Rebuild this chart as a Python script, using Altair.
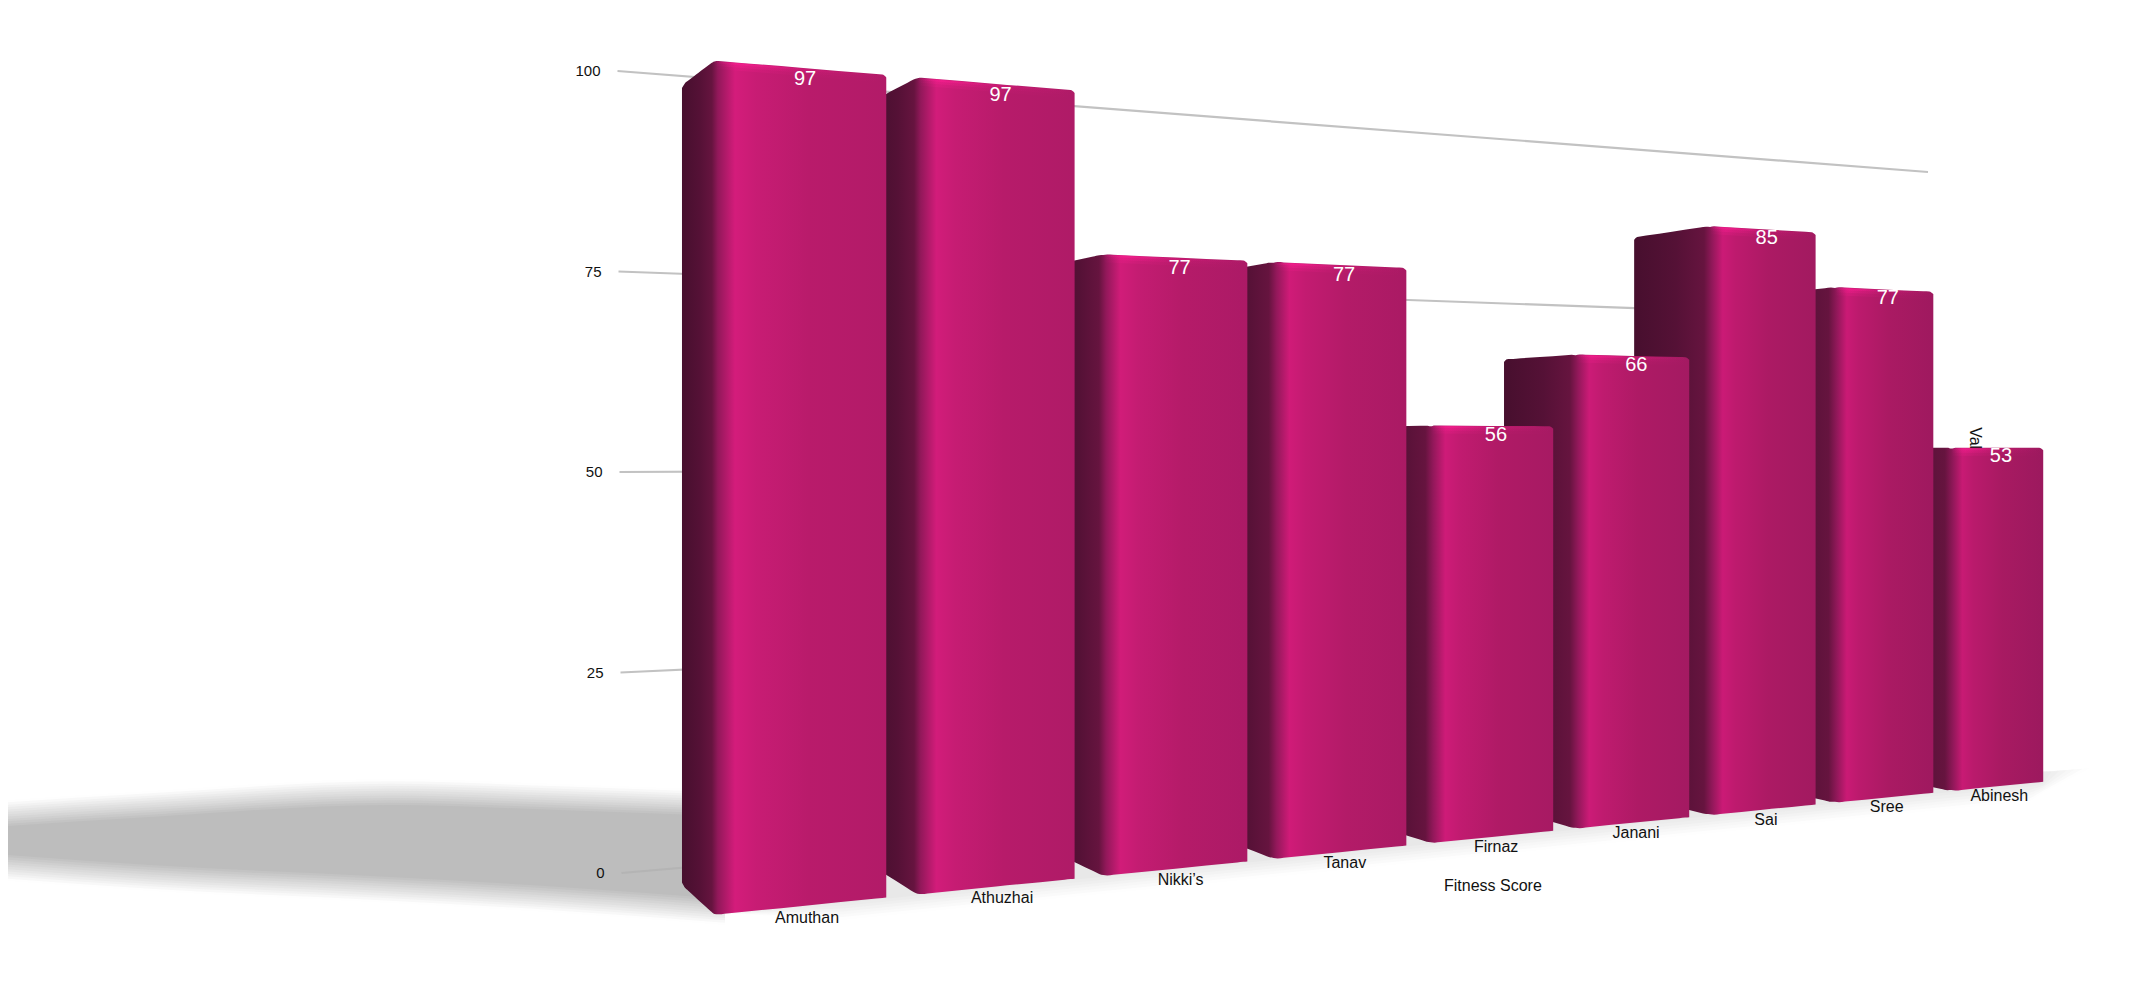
import altair as alt
import pandas as pd

names = ["Amuthan", "Athuzhai", "Nikki’s", "Tanav", "Firnaz", "Janani", "Sai", "Sree", "Abinesh"]
scores = [97, 97, 77, 77, 56, 66, 85, 77, 53]
ticks = [0, 25, 50, 75, 100]

FONT = "Liberation Sans"
X = alt.X("x:Q", axis=None, scale=alt.Scale(domain=[8, 2148], range=[0, 2140], nice=False, zero=False, clamp=False))
Y = alt.Y("y:Q", axis=None, scale=alt.Scale(domain=[978, 8], range=[970, 0], nice=False, zero=False))
Y2 = alt.Y2("y2:Q")


def project(u, v, d=0.0):
    """Perspective view of the 3-D box chart: u along the row, v the score, d the depth."""
    w = 1 + 0.046 * u + 0.0668 * d
    return (241.4 * u + 802 + 13.75 * d) / w, (906 + 21.2 * u - 8.64 * v * (1 + 0.0014 * u) + 30 * d) / w


def wall(t, v):
    """Gridline wall behind the bars: t runs 0..1 from the left end to the right end."""
    x = 621.5 - 0.04 * v + t * (1928 - 621.5 + 0.04 * v)
    y = (873 - 8.02 * v) * (1 - t) + (759 - 5.87 * v) * t
    return x, y


def grad(stops):
    return alt.Gradient(gradient="linear", x1=0, x2=1, y1=0, y2=0,
                        stops=[alt.GradientStop(offset=o, color=c) for o, c in stops])


def band(xs, tops, bottoms, fill, interpolate="linear"):
    df = pd.DataFrame({"x": xs, "y": tops, "y2": bottoms})
    return alt.Chart(df).mark_area(
        color=fill, interpolate=interpolate, orient="vertical", clip=False, line=False
    ).encode(x=X, y=Y, y2=Y2)


def lerp_gray(a, b, t):
    g = round(a + (b - a) * t)
    return f"#{g:02x}{g:02x}{g:02x}"


def along(p, q, x):
    return p[1] + (q[1] - p[1]) * (x - p[0]) / (q[0] - p[0])


layers = []

# soft cast shadow on the floor, built from nested bands
sx = [8, 150, 390, 560, 725]
st = [813, 804, 792, 797, 803]
sb = [868, 878, 890, 900, 912]
steps = 12
for k in range(steps):
    t = k / (steps - 1)
    e = 13 - 26 * t
    layers.append(band(sx, [a - e for a in st], [b + e for b in sb], lerp_gray(254, 189, t), "monotone"))

# soft contact shadow in front of the row
us = [-0.42, 0.2, 2, 4, 6, 8, 8.3]
for k in range(7):
    t = k / 6
    ext = 18 - 17 * t
    extra = 0.45 * (1 - t)
    pts = [project(u, 0) for u in us]
    end_a, end_b = project(8.42, 0), project(8.42 + extra, 0)
    xs = [p[0] for p in pts] + [end_a[0], end_b[0]]
    tops = [p[1] - 25 for p in pts] + [end_a[1] - 10, end_b[1] - 9]
    bots = [pts[0][1] - 2] + [p[1] + ext for p in pts[1:]] + [end_a[1] + ext * 0.6, end_b[1] - 9]
    layers.append(band(xs, tops, bots, lerp_gray(254, 232, t)))

# gridlines
for v in ticks:
    a, b = wall(0, v), wall(1, v)
    layers.append(alt.Chart(pd.DataFrame({"x": [a[0], b[0]], "y": [a[1], b[1]]})).mark_line(
        color="#c2c2c2" if v else "#b4b4b4", strokeWidth=2.2).encode(x=X, y=Y))

tick_df = pd.DataFrame({"label": [str(v) for v in ticks],
                        "x": [wall(0, v)[0] - 17 for v in ticks],
                        "y": [wall(0, v)[1] for v in ticks]})
layers.append(alt.Chart(tick_df).mark_text(font=FONT, fontSize=15, align="right", baseline="middle",
                                           color="#111111").encode(x=X, y=Y, text="label:N"))

# bars, far to near
half = 0.42
count = len(names)
for i in reversed(range(count)):
    v = scores[i]
    ul, ur = i - half, i + half
    f = i / (count - 1)
    if i == count - 1:
        # axis title is hidden behind the last bar
        layers.append(alt.Chart(pd.DataFrame({"x": [1975], "y": [447], "t": ["Value"]})).mark_text(
            font=FONT, fontSize=16, angle=90, align="center", baseline="middle", color="#111111"
        ).encode(x=X, y=Y, text="t:N"))
    bt, bb = project(ul, v, 1), project(ul, 0, 1)
    ft, fb = project(ul, v), project(ul, 0)
    rt, rb = project(ur, v), project(ur, 0)

    # silhouette with softened corners: straight runs keep extra samples so the curve stays tight
    bx, fx, rx = bt[0], ft[0], rt[0]
    xs = [bx, bx + 3, bx + 6, bx + 12, (bx + fx) / 2, fx - 10, fx - 4, fx, fx + 4, fx + 10,
          (fx + rx) / 2, rx - 10, rx - 4, rx]
    side_x = xs[:7]
    front_x = xs[8:13]
    tops = [bt[1] + 2.5] + [along(bt, ft, x) for x in side_x[1:]] + [ft[1] + 0.8] + \
           [along(ft, rt, x) for x in front_x] + [rt[1] + 2.5]
    bots = [bb[1] - 2.5] + [along(bb, fb, x) for x in side_x[1:]] + [fb[1] - 0.8] + \
           [along(fb, rb, x) for x in front_x] + [rb[1]]

    s = (fx - bx) / (rx - bx)
    fr = lambda a: s + (1 - s) * a
    mix = lambda top, far: "#" + "".join(
        f"{round(p + (q - p) * f):02x}" for p, q in zip(top, far))
    fill = grad([(0, "#470f2e"), (s * 0.55, "#551136"), (s * 0.92, "#66143f"),
                 (fr(0.02), "#92185a"), (fr(0.12), mix((0xd4, 0x1c, 0x7b), (0xc8, 0x1a, 0x74))),
                 (fr(0.24), mix((0xc8, 0x1c, 0x74), (0xba, 0x1a, 0x6c))),
                 (fr(0.55), mix((0xb9, 0x1b, 0x6b), (0xa8, 0x1a, 0x62))),
                 (1, mix((0xb2, 0x1b, 0x68), (0x9c, 0x19, 0x5e)))])
    layers.append(band(xs, tops, bots, fill, "monotone"))

    # glossy rim along the top of the front face (three soft passes)
    for depth, alpha in [(2.5, 0.5), (5, 0.3), (8, 0.2)]:
        glow = grad([(0, "rgba(250,30,145,0)"), (0.15, f"rgba(250,30,145,{alpha})"),
                     (0.45, f"rgba(250,30,145,{alpha * 0.3:.3f})"), (1, "rgba(250,30,145,0)")])
        layers.append(band([ft[0], rt[0]], [ft[1] + 0.5, rt[1] + 0.5],
                           [ft[1] + depth, rt[1] + depth], glow))

# value labels and category labels
val_pts = [project(i, v - 1.3) for i, v in enumerate(scores)]
layers.append(alt.Chart(pd.DataFrame({
    "x": [p[0] + 3 for p in val_pts], "y": [p[1] for p in val_pts], "label": [str(v) for v in scores]
})).mark_text(font=FONT, fontSize=20, align="center", baseline="middle", color="#ffffff").encode(
    x=X, y=Y, text="label:N"))

cat_pts = [project(i, -1.3) for i in range(count)]
layers.append(alt.Chart(pd.DataFrame({
    "x": [p[0] + 5 - 0.45 * i for i, p in enumerate(cat_pts)], "y": [p[1] + 1 for p in cat_pts], "label": names
})).mark_text(font=FONT, fontSize=16, align="center", baseline="middle", color="#111111").encode(
    x=X, y=Y, text="label:N"))

tp = project(4, -6.6)
layers.append(alt.Chart(pd.DataFrame({"x": [tp[0]], "y": [tp[1] + 1], "label": ["Fitness Score"]})).mark_text(
    font=FONT, fontSize=16, align="center", baseline="middle", color="#111111"
).encode(x=X, y=Y, text="label:N"))

chart = alt.layer(*layers).properties(
    width=2140, height=970, padding=0, background="#ffffff",
    autosize=alt.AutoSizeParams(type="none"),
).configure_view(strokeWidth=0, stroke="transparent")
chart.save("out.html", embed_options={"renderer": "svg", "actions": False})
